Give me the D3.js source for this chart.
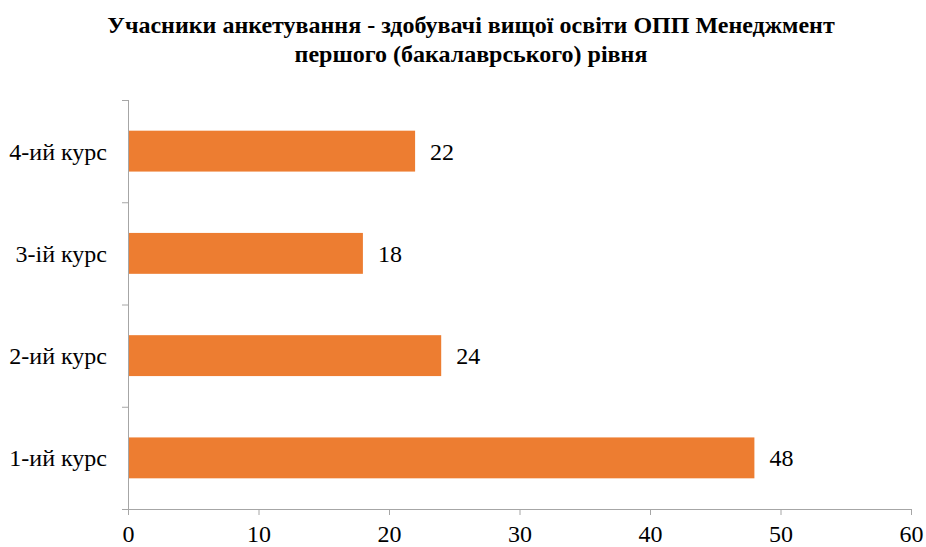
<!DOCTYPE html>
<html>
<head>
<meta charset="utf-8">
<script src="https://cdn.jsdelivr.net/npm/d3@7"></script>
<style>
  body { margin: 0; background: #fff; }
</style>
</head>
<body>
<div class="chart"></div>
<script>
// Chart data
const categories = ["4-ий курс", "3-ій курс", "2-ий курс", "1-ий курс"];
const values = [22, 18, 24, 48];
const xTicks = [0, 10, 20, 30, 40, 50, 60];
const titleLines = [
  "Учасники анкетування - здобувачі вищої освіти ОПП Менеджмент",
  "першого (бакалаврського) рівня"
];

const FONT = "Liberation Serif";

// Dimensions
const W = 926, H = 547;
const margin = { top: 100, right: 15, bottom: 38, left: 128 };
const width = W - margin.left - margin.right;
const height = H - margin.top - margin.bottom;

const svg = d3.select(".chart")
  .append("svg")
  .attr("width", W)
  .attr("height", H);

// Title
svg.append("text")
  .attr("text-anchor", "middle")
  .attr("font-weight", "bold")
  .attr("font-size", 24)
  .style("font-family", FONT)
  .selectAll("tspan")
  .data(titleLines)
  .join("tspan")
  .attr("x", 471)
  .attr("y", (d, i) => 33 + i * 29)
  .text(d => d);

const g = svg.append("g")
  .attr("transform", `translate(${margin.left},${margin.top})`);

// Scales
const x = d3.scaleLinear().domain([0, 60]).range([0, width]);
const y = d3.scaleBand().domain(categories).range([0, height]).paddingInner(0.6).paddingOuter(0.3);

// Bars
g.selectAll("rect")
  .data(values)
  .join("rect")
  .attr("x", 0)
  .attr("y", (d, i) => y(categories[i]))
  .attr("width", d => x(d))
  .attr("height", y.bandwidth())
  .attr("fill", "#ED7D31");

// Value labels
g.selectAll(".val")
  .data(values)
  .join("text")
  .attr("class", "val")
  .attr("x", d => x(d) + 15)
  .attr("y", (d, i) => y(categories[i]) + y.bandwidth() / 2)
  .attr("dy", "0.35em")
  .attr("font-size", 24)
  .style("font-family", FONT)
  .text(d => d);

// X axis
const xAxis = g.append("g")
  .attr("transform", `translate(0,${height})`)
  .call(d3.axisBottom(x).tickValues(xTicks).tickSize(6).tickSizeOuter(0).tickPadding(10));
xAxis.select(".domain").attr("stroke", "#A6A6A6").attr("d", `M-6,0.5H${width}`);
xAxis.selectAll(".tick line").attr("stroke", "#A6A6A6");
xAxis.selectAll(".tick text")
  .attr("font-size", 24)
  .attr("fill", "#000")
  .style("font-family", FONT);

// Y axis with boundary ticks between categories
const yAxis = g.append("g");
yAxis.append("line")
  .attr("x1", 0.5).attr("x2", 0.5)
  .attr("y1", 0).attr("y2", height)
  .attr("stroke", "#A6A6A6");
const step = height / categories.length;
yAxis.selectAll(".bt")
  .data(d3.range(categories.length))
  .join("line")
  .attr("class", "bt")
  .attr("x1", -6).attr("x2", 0)
  .attr("y1", i => i * step + 0.5)
  .attr("y2", i => i * step + 0.5)
  .attr("stroke", "#A6A6A6");
yAxis.selectAll(".cat")
  .data(categories)
  .join("text")
  .attr("class", "cat")
  .attr("x", -21)
  .attr("y", d => y(d) + y.bandwidth() / 2)
  .attr("dy", "0.35em")
  .attr("text-anchor", "end")
  .attr("font-size", 24)
  .style("font-family", FONT)
  .text(d => d);
</script>
</body>
</html>
